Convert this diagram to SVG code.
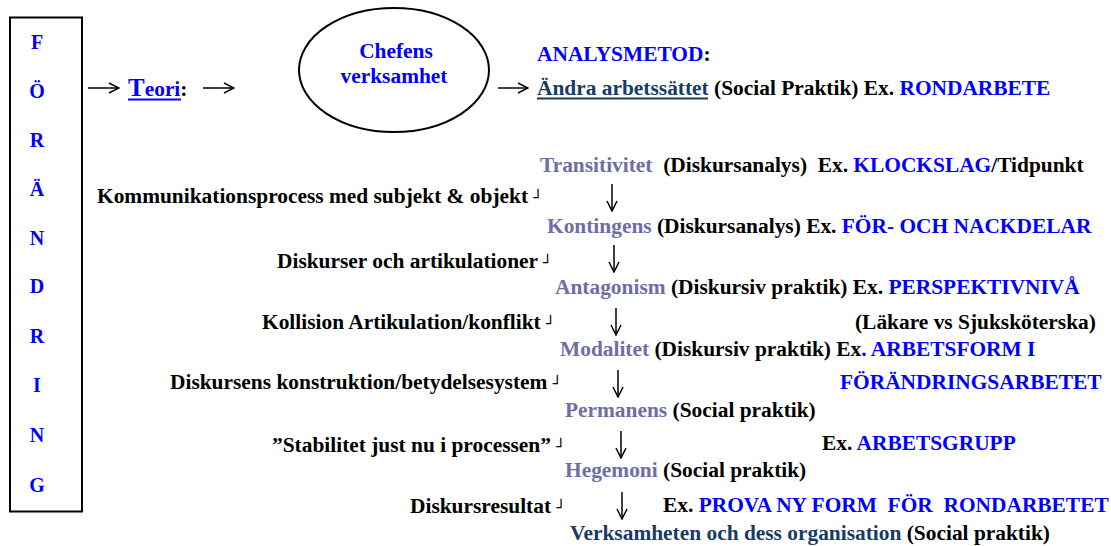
<svg xmlns="http://www.w3.org/2000/svg" width="1111" height="546" viewBox="0 0 1111 546">
<defs>
<marker id="ah" viewBox="0 0 12 12" refX="11" refY="6" markerWidth="12" markerHeight="12" markerUnits="userSpaceOnUse" orient="auto">
<path d="M1,1 L11,6 L1,11" fill="none" stroke="#000" stroke-width="1.5"/>
</marker>
</defs>
<style>
text{font-family:"Liberation Serif","Times New Roman",serif;font-weight:bold;font-size:21.4px;fill:#000;white-space:pre}
.b{fill:#0000ff}
.p{fill:#6e6ea6}
.n{fill:#173b66}
.c{font-family:"DejaVu Sans Mono",monospace;font-weight:normal;font-size:15px}
.lt{text-anchor:middle;fill:#0000ff;font-size:20px}
.arr{stroke:#000;stroke-width:1.5;fill:none;marker-end:url(#ah)}
</style>
<rect width="1111" height="546" fill="#fff"/>

<g id="forandring">
<rect x="10" y="17.5" width="72" height="494" fill="none" stroke="#000" stroke-width="2"/>
<text class="lt" x="37" y="49">F</text>
<text class="lt" x="37" y="98">Ö</text>
<text class="lt" x="37" y="147">R</text>
<text class="lt" x="37" y="196">Ä</text>
<text class="lt" x="37" y="245">N</text>
<text class="lt" x="37" y="293">D</text>
<text class="lt" x="37" y="343">R</text>
<text class="lt" x="37" y="392">I</text>
<text class="lt" x="37" y="442">N</text>
<text class="lt" x="37" y="492">G</text>
</g>

<g id="teori">
<text x="128" y="96"><tspan class="b" font-size="25">T</tspan><tspan class="b">eori</tspan>:</text>
<line x1="128" y1="99.5" x2="181" y2="99.5" stroke="#0000ff" stroke-width="2"/>
</g>

<g id="chefens">
<ellipse cx="394" cy="70" rx="95" ry="62" fill="none" stroke="#000" stroke-width="2"/>
<text class="b" x="396" y="58" text-anchor="middle">Chefens</text>
<text class="b" x="394" y="83" text-anchor="middle">verksamhet</text>
</g>

<g id="analysmetod">
<text x="537" y="61"><tspan class="b">ANALYSMETOD</tspan>:</text>
<text x="537" y="95"><tspan class="n">Ändra arbetssättet</tspan> (Social Praktik) Ex. <tspan class="b">RONDARBETE</tspan></text>
<line x1="537" y1="98.5" x2="708" y2="98.5" stroke="#173b66" stroke-width="2"/>
</g>

<g id="transitivitet">
<text x="540" y="172"><tspan class="p">Transitivitet</tspan>  (Diskursanalys)  Ex. <tspan class="b">KLOCKSLAG</tspan>/Tidpunkt</text>
<text x="97" y="203">Kommunikationsprocess med subjekt &amp; objekt <tspan class="c">┘</tspan></text>
</g>

<g id="kontingens">
<text x="547" y="233"><tspan class="p">Kontingens</tspan> (Diskursanalys) Ex. <tspan class="b">FÖR- OCH NACKDELAR</tspan></text>
<text x="277" y="268">Diskurser och artikulationer <tspan class="c">┘</tspan></text>
</g>

<g id="antagonism">
<text x="555" y="294"><tspan class="p">Antagonism</tspan> (Diskursiv praktik) Ex. <tspan class="b">PERSPEKTIVNIVÅ</tspan></text>
<text x="262" y="329">Kollision Artikulation/konflikt <tspan class="c">┘</tspan></text>
<text x="855" y="329">(Läkare vs Sjuksköterska)</text>
</g>

<g id="modalitet">
<text x="560" y="356"><tspan class="p">Modalitet</tspan> (Diskursiv praktik) Ex<tspan class="b">. ARBETSFORM I</tspan></text>
<text x="170" y="389">Diskursens konstruktion/betydelsesystem <tspan class="c">┘</tspan></text>
<text class="b" x="840" y="389">FÖRÄNDRINGSARBETET</text>
</g>

<g id="permanens">
<text x="565" y="417"><tspan class="p">Permanens</tspan> (Social praktik)</text>
<text x="272" y="452">”Stabilitet just nu i processen” <tspan class="c">┘</tspan></text>
<text x="822" y="450">Ex. <tspan class="b">ARBETSGRUPP</tspan></text>
</g>

<g id="hegemoni">
<text x="565" y="477"><tspan class="p">Hegemoni</tspan> (Social praktik)</text>
<text x="410" y="513">Diskursresultat <tspan class="c">┘</tspan></text>
<text x="663" y="512">Ex. <tspan class="b">PROVA NY FORM  FÖR  RONDARBETET</tspan></text>
</g>

<g id="verksamheten">
<text x="570" y="540"><tspan class="n">Verksamheten och dess organisation</tspan> (Social praktik)</text>
</g>

<g id="connectors">
<line class="arr" x1="88" y1="88" x2="119" y2="88"/>
<line class="arr" x1="203" y1="88" x2="234" y2="88"/>
<line class="arr" x1="498" y1="88" x2="528" y2="88"/>
<line class="arr" x1="612" y1="184" x2="612" y2="211"/>
<line class="arr" x1="614" y1="245" x2="614" y2="272"/>
<line class="arr" x1="616" y1="308" x2="616" y2="335"/>
<line class="arr" x1="618" y1="370" x2="618" y2="397"/>
<line class="arr" x1="621" y1="431" x2="621" y2="458"/>
<line class="arr" x1="622" y1="492" x2="622" y2="519"/>
</g>
</svg>
